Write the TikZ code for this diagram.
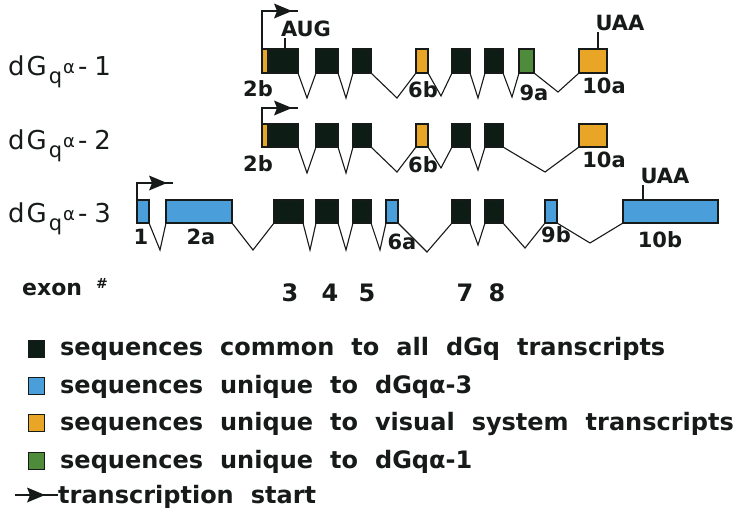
\documentclass[tikz,border=0pt]{standalone}
\usepackage{fontspec}
\setmainfont{DejaVu Sans}
\definecolor{exblack}{HTML}{0E1C16}
\definecolor{exblue}{HTML}{4A9FDB}
\definecolor{exorange}{HTML}{E8A526}
\definecolor{exgreen}{HTML}{4E8B3A}
\definecolor{ink}{HTML}{161A18}
\newcommand{\exon}[6]{\node[exbox, fill=#6, minimum width={(#3-#2)*1pt}, minimum height={(#5-#4)*1pt}] (#1) at (#2,#4) {};}
\newcommand{\tsshead}[2]{\fill[ink] (#1,#2-7.5) -- (#1+18,#2) -- (#1,#2+7.5) -- (#1+3,#2) -- cycle;}
\newcommand{\widesp}{\spaceskip=17pt plus 1pt minus 1pt\relax}
\begin{document}
\begin{tikzpicture}[x=1pt,y=-1pt,
  exbox/.style={draw=ink, line width=1.3pt, anchor=north west, inner sep=0pt, outer sep=0pt},
  intron/.style={draw=ink, line width=1.1pt, line join=miter},
  tss/.style={draw=ink, line width=1.4pt},
  tick/.style={draw=ink, line width=1.3pt},
  lbl/.style={text=ink, inner sep=0pt, font=\bfseries\fontsize{21}{21}\selectfont},
  num/.style={text=ink, inner sep=0pt, anchor=base, font=\bfseries\fontsize{24}{24}\selectfont},
  rowlab/.style={text=ink, inner sep=0pt, anchor=base west, font=\fontsize{26}{26}\selectfont},
  lgtext/.style={text=ink, inner sep=0pt, anchor=base west, font=\bfseries\fontsize{24}{24}\selectfont, execute at begin node=\widesp},
  lgbox/.style={draw=ink, line width=1.2pt, minimum width=16pt, minimum height=17pt, inner sep=0pt, anchor=north west}]
\useasboundingbox[fill=white] (0,0) rectangle (745,514);

% row labels
\newcommand{\rowname}[1]{d\kern2pt G\kern2pt\raisebox{-8pt}{\fontsize{21}{21}\selectfont q}\kern1pt\raisebox{2pt}{\fontsize{18}{18}\selectfont α}\kern3pt-\kern7pt#1}
\node[rowlab] (r1) at (8,75) {\rowname{1}};
\node[rowlab] (r2) at (8,149) {\rowname{2}};
\node[rowlab] (r3) at (8,222) {\rowname{3}};

% ---------- row 1 ----------
\exon{a2b}{262}{268}{49}{73}{exorange}
\exon{a3}{268}{298}{49}{73}{exblack}
\exon{a4}{316}{338}{49}{73}{exblack}
\exon{a5}{353}{371}{49}{73}{exblack}
\exon{a6}{416}{428}{49}{73}{exorange}
\exon{a7}{452}{470}{49}{73}{exblack}
\exon{a8}{485}{503}{49}{73}{exblack}
\exon{a9}{519}{534}{49}{73}{exgreen}
\exon{a10}{579}{607}{49}{73}{exorange}
\draw[intron] (a3.south east) -- (307,98) -- (a4.south west);
\draw[intron] (a4.south east) -- (346,98) -- (a5.south west);
\draw[intron] (a5.south east) -- (397,98) -- (a6.south west);
\draw[intron] (a6.south east) -- (441,96) -- (a7.south west);
\draw[intron] (a7.south east) -- (478,98) -- (a8.south west);
\draw[intron] (a8.south east) -- (512,97) -- (a9.south west);
\draw[intron] (a9.south east) -- (558,92) -- (a10.south west);
\coordinate (t1) at (298,11);
\draw[tss] (a2b.north west) |- (t1);
\tsshead{274}{11}
\node[lbl] (aug) at (306,29) {AUG};
\coordinate (augt) at (285,38);
\draw[tick] (augt) -- (augt |- a3.north);
\node[lbl] (uaa1) at (620,23) {UAA};
\coordinate (uaat1) at (598,32);
\draw[tick] (uaat1) -- (uaat1 |- a10.north);
\node[lbl] (l2b1) at (258,89) {2b};
\node[lbl] (l6b1) at (423,90) {6b};
\node[lbl] (l9a1) at (534,93) {9a};
\node[lbl] (l10a1) at (604,86) {10a};

% ---------- row 2 ----------
\exon{b2b}{262}{268}{124}{147}{exorange}
\exon{b3}{268}{298}{124}{147}{exblack}
\exon{b4}{316}{338}{124}{147}{exblack}
\exon{b5}{353}{371}{124}{147}{exblack}
\exon{b6}{416}{428}{124}{147}{exorange}
\exon{b7}{452}{470}{124}{147}{exblack}
\exon{b8}{485}{503}{124}{147}{exblack}
\exon{b10}{579}{607}{124}{147}{exorange}
\draw[intron] (b3.south east) -- (307,173) -- (b4.south west);
\draw[intron] (b4.south east) -- (346,173) -- (b5.south west);
\draw[intron] (b5.south east) -- (397,172) -- (b6.south west);
\draw[intron] (b6.south east) -- (441,168) -- (b7.south west);
\draw[intron] (b7.south east) -- (478,170) -- (b8.south west);
\draw[intron] (b8.south east) -- (545,172) -- (b10.south west);
\coordinate (t2) at (298,108);
\draw[tss] (b2b.north west) |- (t2);
\tsshead{274}{108}
\node[lbl] (l2b2) at (258,164) {2b};
\node[lbl] (l6b2) at (423,165) {6b};
\node[lbl] (l10a2) at (604,160) {10a};

% ---------- row 3 ----------
\exon{c1}{137}{149}{200}{223}{exblue}
\exon{c2}{166}{232}{200}{223}{exblue}
\exon{c3}{274}{303}{200}{223}{exblack}
\exon{c4}{316}{338}{200}{223}{exblack}
\exon{c5}{353}{371}{200}{223}{exblack}
\exon{c6}{386}{398}{200}{223}{exblue}
\exon{c7}{452}{470}{200}{223}{exblack}
\exon{c8}{485}{503}{200}{223}{exblack}
\exon{c9}{545}{557}{200}{223}{exblue}
\exon{c10}{623}{718}{200}{223}{exblue}
\draw[intron] (c1.south east) -- (160,250) -- (c2.south west);
\draw[intron] (c2.south east) -- (253,250) -- (c3.south west);
\draw[intron] (c3.south east) -- (310,250) -- (c4.south west);
\draw[intron] (c4.south east) -- (346,250) -- (c5.south west);
\draw[intron] (c5.south east) -- (380,250) -- (c6.south west);
\draw[intron] (c6.south east) -- (427,252) -- (c7.south west);
\draw[intron] (c7.south east) -- (478,245) -- (c8.south west);
\draw[intron] (c8.south east) -- (525,248) -- (c9.south west);
\draw[intron] (c9.south east) -- (590,243) -- (c10.south west);
\coordinate (t3) at (173,183);
\draw[tss] (c1.north west) |- (t3);
\tsshead{149}{183}
\node[lbl] (uaa3) at (665,176) {UAA};
\coordinate (uaat3) at (643,185);
\draw[tick] (uaat3) -- (uaat3 |- c10.north);
\node[lbl] (l1) at (141,237) {1};
\node[lbl] (l2a) at (201,237) {2a};
\node[lbl] (l6a) at (402,242) {6a};
\node[lbl] (l9b) at (556,235) {9b};
\node[lbl] (l10b) at (660,240) {10b};

% ---------- exon numbers ----------
\node[text=ink, inner sep=0pt, anchor=base west, font=\bfseries\fontsize{22}{22}\selectfont] (exon) at (22,295) {exon};
\node[text=ink, inner sep=0pt, font=\bfseries\fontsize{14}{14}\selectfont] (hash) at (102,283) {\#};
\node[num] (n3) at (290,301) {3};
\node[num] (n4) at (330,301) {4};
\node[num] (n5) at (367,301) {5};
\node[num] (n7) at (465,301) {7};
\node[num] (n8) at (497,301) {8};

% ---------- legend ----------
\node[lgbox, fill=exblack] (k1) at (28,340) {};
\node[lgbox, fill=exblue] (k2) at (28,377) {};
\node[lgbox, fill=exorange] (k3) at (28,414) {};
\node[lgbox, fill=exgreen] (k4) at (28,452) {};
\node[lgtext] (g1) at (60,355) {sequences common to all dGq transcripts};
\node[lgtext] (g2) at (60,393) {sequences unique to dGqα-3};
\node[lgtext] (g3) at (60,430) {sequences unique to visual system transcripts};
\node[lgtext] (g4) at (60,468) {sequences unique to dGqα-1};
\node[lgtext] (g5) at (58,503) {transcription start};
\coordinate (ls) at (15,495);
\draw[tss] (ls) -- (g5.west |- ls);
\tsshead{27}{495}
\end{tikzpicture}
\end{document}
